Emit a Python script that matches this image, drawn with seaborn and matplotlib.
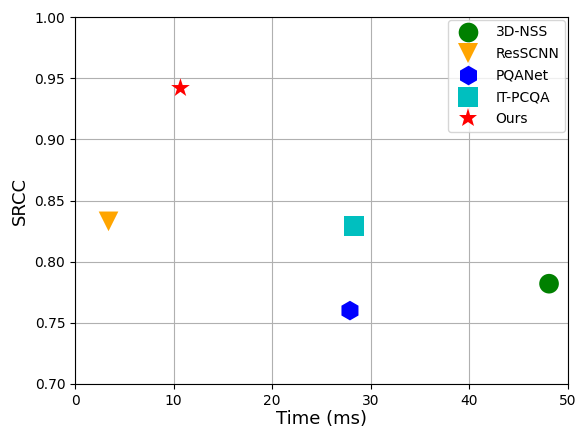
import matplotlib
matplotlib.use("Agg")
import matplotlib.pyplot as plt
import seaborn as sns
import pandas as pd

methods = ["3D-NSS", "ResSCNN", "PQANet", "IT-PCQA", "Ours"]
times = [48.1, 3.4, 27.9, 28.3, 10.7]
srcc = [0.782, 0.833, 0.760, 0.829, 0.942]
colors = ["green", "orange", "blue", "c", "red"]
markers = ["o", "v", "h", "s", "*"]

df = pd.DataFrame({"Method": methods, "Time": times, "SRCC": srcc})

plt.rcParams['font.family'] = ['DejaVu Sans']
fig, ax = plt.subplots(figsize=(5.77, 4.29), dpi=100)
sns.scatterplot(data=df, x="Time", y="SRCC", hue="Method", style="Method",
                palette=dict(zip(methods, colors)),
                markers=dict(zip(methods, markers)),
                s=200, edgecolor="none", ax=ax, zorder=3)
ax.set_xlim(0, 50)
ax.set_ylim(0.70, 1.00)
ax.set_xlabel("Time (ms)", fontsize=13, labelpad=2)
ax.set_ylabel("SRCC", fontsize=13)
ax.tick_params(labelsize=10)
ax.grid(True)
ax.set_axisbelow(True)
leg = ax.legend(loc="upper right", fontsize=10, markerscale=1.0,
                labelspacing=0.55, handletextpad=1.0, borderaxespad=0.2)
fig.subplots_adjust(left=0.130, right=0.984, top=0.960, bottom=0.105)
fig.savefig("out.png", dpi=100)
